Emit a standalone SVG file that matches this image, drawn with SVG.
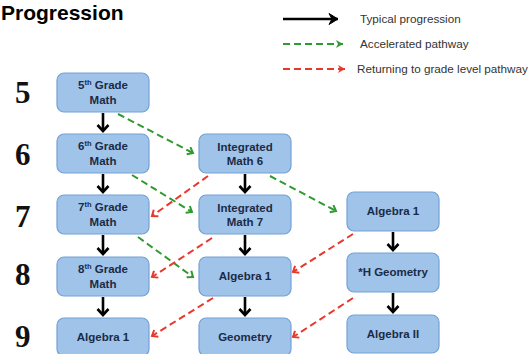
<svg xmlns="http://www.w3.org/2000/svg" width="529" height="354" viewBox="0 0 529 354">
<defs>
<style>
.box{fill:#9fc3e9;stroke:#74a1d6;stroke-width:1.2}
.lbl{font-family:"Liberation Sans",Arial,sans-serif;font-weight:bold;font-size:11.5px;fill:#1c2b45;text-anchor:middle}
.sup{font-size:7.5px}
.num{font-family:"Liberation Serif","Times New Roman",serif;font-weight:bold;font-size:31px;fill:#111}
.leg{font-family:"Liberation Sans",Arial,sans-serif;font-size:11.7px;fill:#333}
.blk{stroke:#000;stroke-width:2.6;fill:none}
.grn{stroke:#2f9a2f;stroke-width:2;stroke-dasharray:7 4;fill:none}
.red{stroke:#e8382c;stroke-width:2;stroke-dasharray:7 4;fill:none}
</style>
<marker id="mb" markerUnits="userSpaceOnUse" markerWidth="14" markerHeight="14" refX="7" refY="7" orient="auto">
<path d="M1,1.5 L7,7 L1,12.5" fill="none" stroke="#000" stroke-width="2.6"/>
</marker>
<marker id="mbL" markerUnits="userSpaceOnUse" markerWidth="14" markerHeight="14" refX="11" refY="7" orient="auto">
<path d="M2,1.5 L11,7 L2,12.5 L5,7 Z" fill="#000" stroke="#000" stroke-width="1" stroke-linejoin="round"/>
</marker>
<marker id="mg" markerUnits="userSpaceOnUse" markerWidth="10" markerHeight="10" refX="7" refY="5" orient="auto">
<path d="M2,1 L7,5 L2,9" fill="none" stroke="#2f9a2f" stroke-width="2"/>
</marker>
<marker id="mr" markerUnits="userSpaceOnUse" markerWidth="10" markerHeight="10" refX="7" refY="5" orient="auto">
<path d="M2,1 L7,5 L2,9" fill="none" stroke="#e8382c" stroke-width="2"/>
</marker>
<marker id="mgL" markerUnits="userSpaceOnUse" markerWidth="10" markerHeight="10" refX="8" refY="5" orient="auto">
<path d="M1,1 L8,5 L1,9 L3,5 Z" fill="#2f9a2f"/>
</marker>
<marker id="mrL" markerUnits="userSpaceOnUse" markerWidth="10" markerHeight="10" refX="8" refY="5" orient="auto">
<path d="M1,1 L8,5 L1,9 L3,5 Z" fill="#e8382c"/>
</marker>
</defs>
<rect width="529" height="354" fill="#fff"/>

<text x="1" y="20" font-family="Liberation Sans,Arial,sans-serif" font-weight="bold" font-size="21" fill="#000">Progression</text>

<g id="legend">
<line x1="283" y1="19" x2="338" y2="19" class="blk" marker-end="url(#mbL)"/>
<text x="360" y="23" class="leg">Typical progression</text>
<line x1="283" y1="44" x2="343" y2="44" class="grn" marker-end="url(#mgL)"/>
<text x="360" y="48" class="leg">Accelerated pathway</text>
<line x1="283" y1="69" x2="345" y2="69" class="red" marker-end="url(#mrL)"/>
<text x="357" y="73" class="leg">Returning to grade level pathway</text>
</g>

<g id="grades">
<text x="15" y="103" class="num">5</text>
<text x="15" y="165" class="num">6</text>
<text x="15" y="227" class="num">7</text>
<text x="15" y="285" class="num">8</text>
<text x="15" y="347" class="num">9</text>
</g>

<g id="connectors">
<line x1="103" y1="113" x2="103" y2="131" class="blk" marker-end="url(#mb)"/>
<line x1="103" y1="174" x2="103" y2="192" class="blk" marker-end="url(#mb)"/>
<line x1="103" y1="235" x2="103" y2="254" class="blk" marker-end="url(#mb)"/>
<line x1="103" y1="297" x2="103" y2="315" class="blk" marker-end="url(#mb)"/>
<line x1="245" y1="174" x2="245" y2="192" class="blk" marker-end="url(#mb)"/>
<line x1="245" y1="235" x2="245" y2="254" class="blk" marker-end="url(#mb)"/>
<line x1="245" y1="297" x2="245" y2="315" class="blk" marker-end="url(#mb)"/>
<line x1="393" y1="232" x2="393" y2="250" class="blk" marker-end="url(#mb)"/>
<line x1="393" y1="293" x2="393" y2="312" class="blk" marker-end="url(#mb)"/>

<line x1="118" y1="114" x2="193" y2="153" class="grn" marker-end="url(#mg)"/>
<line x1="132" y1="175" x2="192" y2="212" class="grn" marker-end="url(#mg)"/>
<line x1="270" y1="176" x2="336" y2="211" class="grn" marker-end="url(#mg)"/>
<line x1="138" y1="237" x2="193" y2="277" class="grn" marker-end="url(#mg)"/>

<line x1="208" y1="176" x2="152" y2="216" class="red" marker-end="url(#mr)"/>
<line x1="212" y1="238" x2="152" y2="277" class="red" marker-end="url(#mr)"/>
<line x1="213" y1="298" x2="152" y2="336" class="red" marker-end="url(#mr)"/>
<line x1="353" y1="234" x2="293" y2="272" class="red" marker-end="url(#mr)"/>
<line x1="353" y1="298" x2="293" y2="337" class="red" marker-end="url(#mr)"/>
</g>

<g id="g5math">
<rect x="57" y="73" width="92" height="39" rx="7" class="box"/>
<text x="103" y="89" class="lbl">5<tspan class="sup" dy="-4">th</tspan><tspan dy="4"> Grade</tspan></text>
<text x="103" y="104" class="lbl">Math</text>
</g>
<g id="g6math">
<rect x="57" y="134" width="92" height="39" rx="7" class="box"/>
<text x="103" y="150" class="lbl">6<tspan class="sup" dy="-4">th</tspan><tspan dy="4"> Grade</tspan></text>
<text x="103" y="165" class="lbl">Math</text>
</g>
<g id="g7math">
<rect x="57" y="195" width="92" height="39" rx="7" class="box"/>
<text x="103" y="211" class="lbl">7<tspan class="sup" dy="-4">th</tspan><tspan dy="4"> Grade</tspan></text>
<text x="103" y="226" class="lbl">Math</text>
</g>
<g id="g8math">
<rect x="57" y="257" width="92" height="39" rx="7" class="box"/>
<text x="103" y="273" class="lbl">8<tspan class="sup" dy="-4">th</tspan><tspan dy="4"> Grade</tspan></text>
<text x="103" y="288" class="lbl">Math</text>
</g>
<g id="g9alg1">
<rect x="57" y="318" width="92" height="38" rx="7" class="box"/>
<text x="103" y="341" class="lbl">Algebra 1</text>
</g>

<g id="int6">
<rect x="199" y="134" width="92" height="39" rx="7" class="box"/>
<text x="245" y="151" class="lbl">Integrated</text>
<text x="245" y="165" class="lbl">Math 6</text>
</g>
<g id="int7">
<rect x="199" y="195" width="92" height="39" rx="7" class="box"/>
<text x="245" y="212" class="lbl">Integrated</text>
<text x="245" y="226" class="lbl">Math 7</text>
</g>
<g id="alg1b">
<rect x="199" y="257" width="92" height="39" rx="7" class="box"/>
<text x="245" y="280" class="lbl">Algebra 1</text>
</g>
<g id="geom">
<rect x="199" y="318" width="92" height="38" rx="7" class="box"/>
<text x="245" y="341" class="lbl">Geometry</text>
</g>

<g id="alg1c">
<rect x="347" y="192" width="92" height="39" rx="7" class="box"/>
<text x="393" y="215" class="lbl">Algebra 1</text>
</g>
<g id="hgeom">
<rect x="347" y="253" width="92" height="39" rx="7" class="box"/>
<text x="393" y="276" class="lbl">*H Geometry</text>
</g>
<g id="alg2">
<rect x="347" y="315" width="92" height="38" rx="7" class="box"/>
<text x="393" y="338" class="lbl">Algebra II</text>
</g>
</svg>
